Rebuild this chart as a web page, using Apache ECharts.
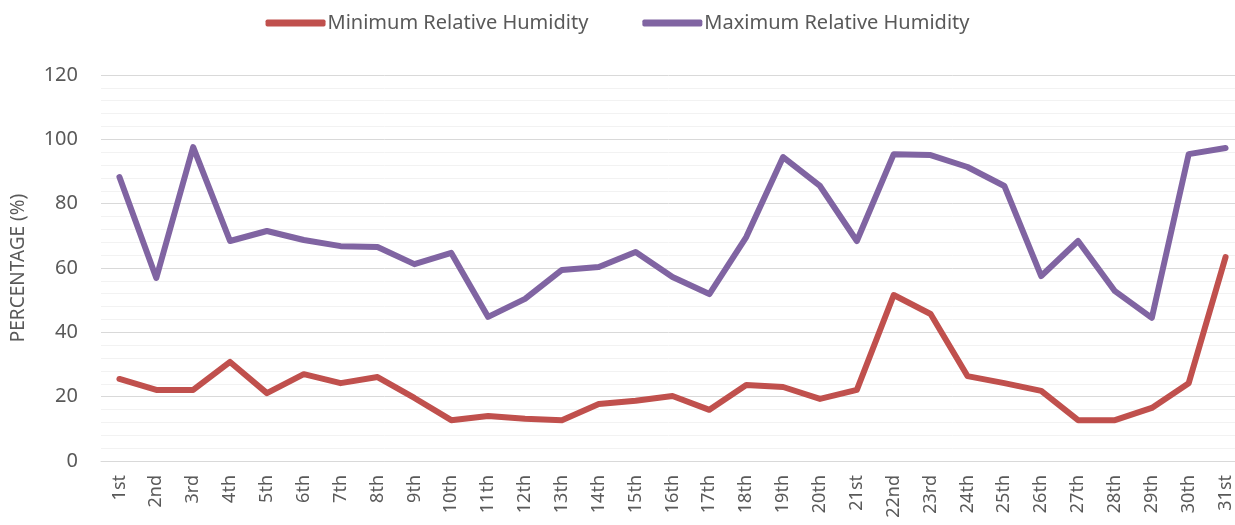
<!DOCTYPE html>
<html>
<head>
<meta charset="utf-8">
<script src="https://cdn.jsdelivr.net/npm/echarts@6/dist/echarts.min.js"></script>
<style>
  html, body { margin: 0; padding: 0; background: #fff; }
  #chart { width: 1235px; height: 525px; }
</style>
</head>
<body>
<div id="chart"></div>
<script>
// days of the month
var days = ['1st', '2nd', '3rd', '4th', '5th', '6th', '7th', '8th', '9th', '10th',
  '11th', '12th', '13th', '14th', '15th', '16th', '17th', '18th', '19th', '20th',
  '21st', '22nd', '23rd', '24th', '25th', '26th', '27th', '28th', '29th', '30th', '31st'];

var minHumidity = [25.5, 22.1, 22.1, 30.8, 21.1, 27, 24.2, 26.1, 19.6, 12.7,
  14, 13.1, 12.7, 17.7, 18.7, 20.2, 15.9, 23.6, 23, 19.3,
  22.1, 51.6, 45.7, 26.4, 24.2, 21.8, 12.7, 12.7, 16.5, 24.2, 63.4];

var maxHumidity = [88.3, 56.9, 97.6, 68.4, 71.5, 68.7, 66.8, 66.5, 61.2, 64.7,
  44.8, 50.4, 59.4, 60.3, 65, 57.2, 51.9, 69.6, 94.5, 85.5,
  68.4, 95.4, 95.1, 91.4, 85.5, 57.5, 68.4, 52.8, 44.5, 95.4, 97.3];

var yTicks = [0, 20, 40, 60, 80, 100, 120];

var myChart = echarts.init(document.getElementById('chart'));
var font = 'Noto Sans';

var option = {
  animation: false,
  textStyle: { fontFamily: font },
  legend: {
    top: 8,
    left: 'center',
    itemWidth: 60,
    itemHeight: 7,
    itemGap: 54,
    icon: 'roundRect',
    textStyle: { fontSize: 20, color: '#595959', padding: [0, 0, 0, -3] },
    data: ['Minimum Relative Humidity', 'Maximum Relative Humidity']
  },
  grid: {
    left: 101,
    right: -9,
    top: 75,
    bottom: 64,
    containLabel: false,
    outerBoundsMode: 'none'
  },
  xAxis: {
    type: 'category',
    data: days,
    boundaryGap: true,
    axisLine: { lineStyle: { color: '#D9D9D9', width: 1 } },
    axisTick: { show: false },
    axisLabel: {
      rotate: 90,
      interval: 0,
      margin: 14,
      fontSize: 18,
      color: '#595959'
    }
  },
  yAxis: {
    type: 'value',
    min: yTicks[0],
    max: yTicks[yTicks.length - 1],
    interval: 20,
    name: 'PERCENTAGE (%)',
    nameLocation: 'middle',
    nameGap: 73,
    nameTextStyle: { fontSize: 19, color: '#595959' },
    axisLine: { show: false },
    axisTick: { show: false },
    axisLabel: { fontSize: 20, color: '#595959', margin: 23 },
    splitLine: { lineStyle: { color: '#D9D9D9', width: 1 } },
    minorTick: { show: false, splitNumber: 5 },
    minorSplitLine: { show: true, lineStyle: { color: '#F2F2F2', width: 1 } }
  },
  series: [
    {
      name: 'Minimum Relative Humidity',
      type: 'line',
      data: minHumidity,
      symbol: 'none',
      color: '#C0504D',
      lineStyle: { width: 6, color: '#C0504D', cap: 'round', join: 'round' }
    },
    {
      name: 'Maximum Relative Humidity',
      type: 'line',
      data: maxHumidity,
      symbol: 'none',
      color: '#8064A2',
      lineStyle: { width: 6, color: '#8064A2', cap: 'round', join: 'round' }
    }
  ]
};

myChart.setOption(option);
</script>
</body>
</html>
